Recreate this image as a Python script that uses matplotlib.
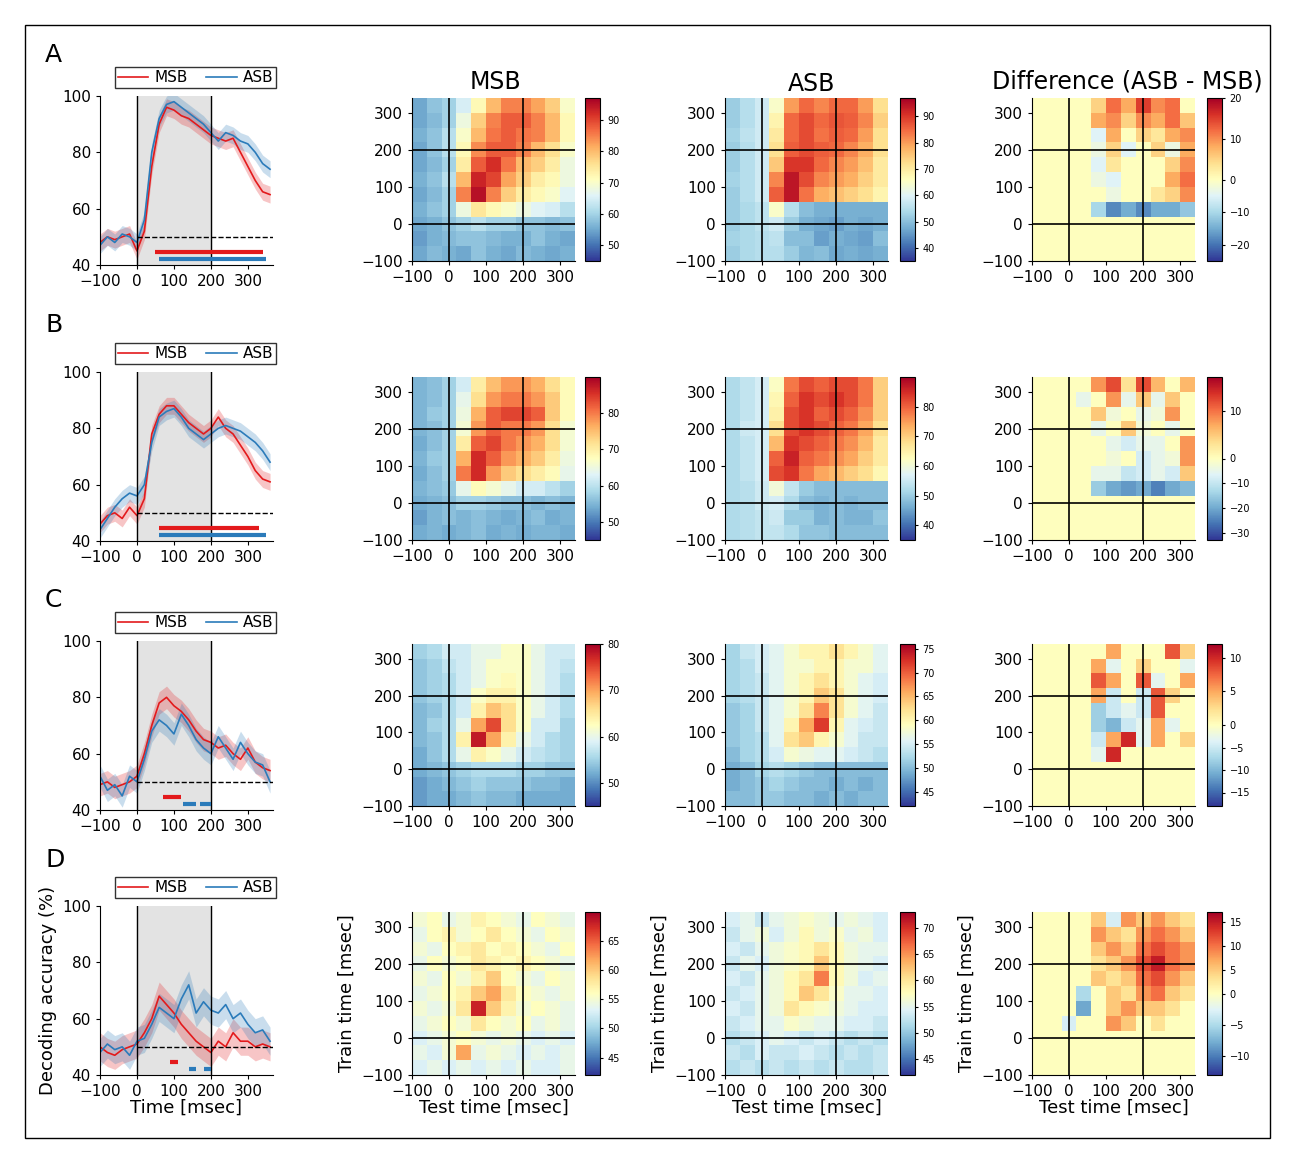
import numpy as np
import matplotlib
matplotlib.use("Agg")
import matplotlib.pyplot as plt
from matplotlib.colors import TwoSlopeNorm, Normalize
from matplotlib.patches import Rectangle

t = np.arange(-100, 361, 20)
line_msb = {
 'A': [48,50,49,50,51,45,52,75,90,96,95,93,92,90,88,86,85,84,85,80,75,70,66,65],
 'B': [46,49,50,48,52,49,55,78,85,88,88,85,82,80,78,80,84,80,78,74,70,65,62,61],
 'C': [49,50,48,49,50,52,60,70,78,80,77,75,72,68,65,64,62,63,60,58,62,57,55,54],
 'D': [50,48,47,49,50,51,55,60,68,65,62,58,55,52,50,48,52,50,55,52,52,50,51,50]}
line_asb = {
 'A': [47,50,48,51,50,48,56,80,92,97,98,96,94,92,90,87,84,87,86,84,83,80,76,74],
 'B': [44,48,52,55,57,56,60,75,84,86,87,84,80,78,76,78,80,81,80,79,77,75,72,68],
 'C': [52,47,49,45,52,50,58,68,72,70,67,74,70,65,62,60,66,62,58,64,60,57,56,50],
 'D': [48,51,49,50,47,52,53,58,64,62,60,67,72,62,66,63,62,65,60,62,58,55,56,52]}
sem = {'A': 3, 'B': 3, 'C': 4, 'D': 5}
sig_msb = {'A': [(50, 340)], 'B': [(60, 330)], 'C': [(70, 120)], 'D': [(90, 110)]}
sig_asb = {'A': [(60, 350)], 'B': [(60, 350)], 'C': [(125, 160), (170, 200)], 'D': [(140, 160), (180, 200)]}

# heatmaps: rows = train time 320 (top) -> -80 (bottom), cols = test time -80 -> 320
hm = {}
hm[('A','MSB')] = [
[55,58,60,65,72,80,85,85,82,78,70],[55,57,60,68,78,85,88,88,85,80,72],[56,58,62,70,80,86,88,86,85,80,72],
[55,58,62,72,84,88,88,85,80,76,70],[55,57,60,74,88,92,86,80,78,74,68],[56,58,62,80,93,90,82,78,74,72,68],
[55,57,60,85,95,85,78,74,72,70,66],[56,58,60,68,75,72,70,68,66,65,62],[55,56,58,60,62,60,60,58,58,57,58],
[54,56,57,58,58,57,56,56,58,56,55],[55,57,56,55,58,56,55,57,56,55,56]]
hm[('A','ASB')] = [
[52,55,58,65,80,85,82,85,85,80,72],[52,55,58,68,85,88,85,87,86,82,74],[53,56,58,70,85,88,84,86,85,80,72],
[52,55,58,72,86,88,86,85,82,78,72],[52,55,58,75,90,90,85,82,80,76,70],[53,55,58,82,94,88,82,80,78,74,70],
[52,55,58,86,94,84,78,76,74,72,68],[52,54,56,65,55,50,48,48,48,48,48],[52,54,56,58,52,48,47,46,48,47,48],
[53,54,55,56,50,50,46,48,47,46,50],[52,54,55,55,52,49,50,47,48,47,48]]
hm[('A','DIFF')] = [
[0,0,0,0,5,12,8,15,10,12,0],[0,0,0,0,8,10,5,10,8,12,6],[0,0,0,0,-5,8,0,5,3,8,10],
[0,0,0,0,-3,5,-5,0,5,-3,8],[0,0,0,0,-5,3,0,0,0,5,10],[0,0,0,0,-3,-5,0,0,0,8,12],
[0,0,0,0,0,-3,0,0,3,5,10],[0,0,0,0,-10,-18,-15,-18,-15,-15,-12],[0]*11,[0]*11,[0]*11]
hm[('B','MSB')] = [
[55,56,58,62,70,75,78,78,76,72,68],[55,56,58,64,72,78,80,80,78,74,68],[55,57,58,65,76,82,84,84,82,74,68],
[55,56,58,66,78,82,80,80,78,72,66],[54,56,58,70,82,84,80,78,76,72,66],[55,57,58,76,86,82,78,76,74,70,65],
[54,56,58,80,86,78,74,72,70,68,64],[55,56,57,64,68,66,64,62,62,60,58],[54,55,56,58,58,57,56,56,55,56,55],
[53,55,56,55,56,55,54,55,56,54,55],[54,55,54,55,56,54,55,54,55,55,54]]
hm[('B','ASB')] = [
[52,54,56,62,78,82,80,82,82,78,70],[52,54,56,64,80,84,82,84,82,78,70],[52,54,56,65,82,84,80,82,80,76,70],
[52,55,56,68,82,84,82,80,78,74,68],[52,54,56,72,84,82,80,78,76,72,66],[52,54,56,80,86,80,78,76,74,70,66],
[52,54,56,82,84,78,74,72,70,68,64],[52,53,55,60,54,50,48,48,48,48,48],[52,53,55,56,52,48,47,48,47,48,48],
[52,53,54,55,50,50,47,48,47,47,49],[52,53,54,54,52,49,49,48,48,48,48]]
hm[('B','DIFF')] = [
[0,0,0,0,8,12,3,12,6,0,6],[0,0,0,-5,0,8,-5,5,-5,5,0],[0,0,0,0,5,-3,0,-5,-3,8,0],
[0,0,0,0,-5,0,5,-3,0,-5,0],[0,0,0,0,0,-5,-8,-5,-5,0,8],[0,0,0,0,0,-3,0,-8,-5,-3,8],
[0,0,0,0,-5,-5,-10,-8,-5,-8,5],[0,0,0,0,-15,-20,-22,-20,-25,-20,-18],[0]*11,[0]*11,[0]*11]
hm[('C','MSB')] = [
[55,56,58,58,60,60,62,62,60,58,58],[54,55,57,58,60,62,62,62,60,58,57],[54,55,56,58,60,62,63,62,60,58,56],
[54,55,56,58,62,64,64,62,60,58,56],[53,54,56,58,64,68,66,62,60,58,56],[53,55,56,60,70,75,66,62,58,58,55],
[53,54,56,64,78,70,64,60,58,56,55],[52,54,56,60,64,62,60,58,57,56,55],[52,53,54,55,56,56,56,55,55,54,54],
[51,52,53,54,55,54,54,54,53,53,52],[51,52,52,53,54,53,53,52,52,52,52]]
hm[('C','ASB')] = [
[52,54,55,56,58,60,60,62,60,58,56],[52,53,55,56,58,58,60,60,58,58,56],[52,53,54,56,58,60,62,60,58,56,55],
[52,53,54,56,58,60,64,62,58,56,55],[51,52,54,56,58,62,68,62,58,56,54],[51,52,54,56,60,66,72,60,56,55,54],
[51,52,53,56,62,64,60,58,56,54,54],[50,52,53,55,58,57,56,56,55,54,53],[49,50,52,53,52,51,50,50,50,50,50],
[49,50,51,52,51,50,50,49,50,49,50],[50,50,51,51,50,50,49,50,49,50,50]]
hm[('C','DIFF')] = [
[0,0,0,0,0,5,0,0,0,8,3],[0,0,0,0,5,-3,0,3,0,0,-3],[0,0,0,0,8,5,0,8,-3,0,5],
[0,0,0,0,5,-5,0,-5,8,3,0],[0,0,0,0,-8,-5,-3,-5,8,0,0],[0,0,0,0,-8,-10,-5,-3,5,-3,0],
[0,0,0,0,-5,5,10,-3,5,0,3],[0,0,0,0,-3,10,0,0,0,0,0],[0]*11,[0]*11,[0]*11]
hm[('D','MSB')] = [
[55,56,54,55,57,56,55,54,56,55,54],[54,56,57,55,56,58,56,55,54,56,55],[55,54,56,57,58,56,57,56,55,54,56],
[54,56,55,56,58,57,56,57,56,55,54],[55,54,56,55,57,60,56,55,54,56,55],[54,55,56,57,60,62,58,56,55,54,55],
[55,54,55,58,68,60,57,55,56,55,54],[54,55,56,55,58,56,55,56,54,55,54],[53,54,55,56,55,54,55,54,53,54,53],
[54,53,55,62,54,55,54,53,54,53,54],[53,54,53,54,53,54,53,54,53,53,54]]
hm[('D','ASB')] = [
[54,55,53,55,56,57,56,55,56,55,54],[53,55,56,54,56,58,56,57,55,56,54],[54,53,55,56,57,58,60,58,56,55,55],
[53,55,54,56,57,58,62,58,56,55,54],[54,53,55,56,58,60,66,58,56,54,55],[53,54,55,56,58,62,60,57,55,55,54],
[54,53,55,56,60,58,57,56,55,54,54],[53,54,55,55,57,56,55,55,54,54,53],[52,53,54,55,54,53,54,53,52,53,52],
[53,52,54,53,53,54,53,52,53,52,53],[52,53,52,53,52,53,52,53,52,52,53]]
hm[('D','DIFF')] = [
[0,0,0,0,5,-3,8,5,8,5,3],[0,0,0,0,8,5,3,8,10,8,5],[0,0,0,0,5,8,5,10,12,10,8],
[0,0,0,0,3,5,8,12,15,10,8],[0,0,0,0,5,3,5,10,12,8,5],[0,0,0,-5,0,5,3,8,10,5,3],
[0,0,0,-8,0,5,8,5,5,3,0],[0,0,-3,0,0,8,5,0,3,0,0],[0]*11,[0]*11,[0]*11]

cb_range = {('A','MSB'):(45,97,[50,60,70,80,90]),('A','ASB'):(35,97,[40,50,60,70,80,90]),('A','DIFF'):(-25,20,[-20,-10,0,10,20]),
            ('B','MSB'):(45,90,[50,60,70,80]),('B','ASB'):(35,90,[40,50,60,70,80]),('B','DIFF'):(-33,17,[-30,-20,-10,0,10]),
            ('C','MSB'):(45,80,[50,60,70,80]),('C','ASB'):(42,76,[45,50,55,60,65,70,75]),('C','DIFF'):(-18,12,[-15,-10,-5,0,5,10]),
            ('D','MSB'):(42,70,[45,50,55,60,65]),('D','ASB'):(42,73,[45,50,55,60,65,70]),('D','DIFF'):(-13,17,[-10,-5,0,5,10,15])}

W, H = 1294, 1149
fig = plt.figure(figsize=(W/100, H/100), dpi=100)
fig.patches.append(Rectangle((25/W, 1-1138/H), 1245/W, 1113/H, transform=fig.transFigure, fill=False, lw=1, ec='k'))

def ax_px(l, t_, r, b):
    return fig.add_axes([l/W, 1-b/H, (r-l)/W, (b-t_)/H])

rows = ['A', 'B', 'C', 'D']
line_y = {'A': (96, 265), 'B': (372, 541), 'C': (641, 810), 'D': (906, 1075)}
hm_y = {'A': (98, 261), 'B': (377, 540), 'C': (644, 806), 'D': (912, 1075)}
letter_y = {'A': 55, 'B': 325, 'C': 600, 'D': 860}
cols = [('MSB', 412, 575, 585), ('ASB', 725, 888, 900), ('DIFF', 1032, 1195, 1207)]
cmap = plt.get_cmap('RdYlBu_r')
red, blue = '#e31a1c', '#2b7bba'

for r in rows:
    fig.text(45/W, 1-letter_y[r]/H, r, fontsize=18, va='center')
    y0, y1 = line_y[r]
    ax = ax_px(100, y0, 273, y1)
    ax.axvspan(0, 200, color='#e3e3e3', zorder=0)
    m = np.array(line_msb[r]); a = np.array(line_asb[r])
    ax.fill_between(t, m-sem[r], m+sem[r], color=red, alpha=0.25, lw=0)
    ax.fill_between(t, a-sem[r], a+sem[r], color=blue, alpha=0.25, lw=0)
    ax.plot(t, m, color=red, lw=1.2, label='MSB')
    ax.plot(t, a, color=blue, lw=1.2, label='ASB')
    ax.axvline(0, color='k', lw=1); ax.axvline(200, color='k', lw=1)
    ax.plot([0, 368], [50, 50], 'k--', lw=1)
    for s, e in sig_msb[r]:
        ax.plot([s, e], [44.5, 44.5], color=red, lw=3, solid_capstyle='butt')
    for s, e in sig_asb[r]:
        ax.plot([s, e], [42, 42], color=blue, lw=3, solid_capstyle='butt')
    ax.set_xlim(-100, 368); ax.set_ylim(40, 100)
    ax.set_xticks([-100, 0, 100, 200, 300]); ax.set_yticks([40, 60, 80, 100])
    ax.tick_params(labelsize=11, length=3)
    for sp in ['top', 'right']:
        ax.spines[sp].set_visible(False)
    ax.legend(loc='lower left', bbox_to_anchor=(0.04, 1.0), ncol=2, fontsize=11, frameon=True,
              fancybox=False, edgecolor='k', handlelength=2, borderpad=0.2, columnspacing=1.2, handletextpad=0.4)
    if r == 'D':
        ax.set_xlabel('Time [msec]', fontsize=13, labelpad=0)
        ax.set_ylabel('Decoding accuracy (%)', fontsize=13)
    hy0, hy1 = hm_y[r]
    for name, l, rr, cbl in cols:
        hax = ax_px(l, hy0, rr, hy1)
        vmin, vmax, ticks = cb_range[(r, name)]
        norm = TwoSlopeNorm(0, vmin, vmax) if name == 'DIFF' else Normalize(vmin, vmax)
        im = hax.imshow(np.array(hm[(r, name)]), cmap=cmap, norm=norm, origin='upper',
                        extent=[-100, 340, -100, 340], aspect='auto', interpolation='nearest')
        for v in (0, 200):
            hax.axvline(v, color='k', lw=1.2); hax.axhline(v, color='k', lw=1.2)
        hax.set_xticks([-100, 0, 100, 200, 300]); hax.set_yticks([-100, 0, 100, 200, 300])
        hax.tick_params(labelsize=11, length=3)
        for sp in ['top', 'right']:
            hax.spines[sp].set_visible(False)
        if r == 'D':
            hax.set_xlabel('Test time [msec]', fontsize=13, labelpad=0)
            hax.set_ylabel('Train time [msec]', fontsize=13)
        cax = ax_px(cbl, hy0, cbl+15, hy1)
        cb = fig.colorbar(im, cax=cax, ticks=ticks)
        cb.ax.tick_params(labelsize=7, length=2)
        cb.outline.set_linewidth(0.8)

fig.text(495/W, 1-82/H, 'MSB', fontsize=17, ha='center', va='center')
fig.text(811/W, 1-84/H, 'ASB', fontsize=17, ha='center', va='center')
fig.text(1127/W, 1-82/H, 'Difference (ASB - MSB)', fontsize=17, ha='center', va='center')
fig.savefig('out.png', dpi=100)
